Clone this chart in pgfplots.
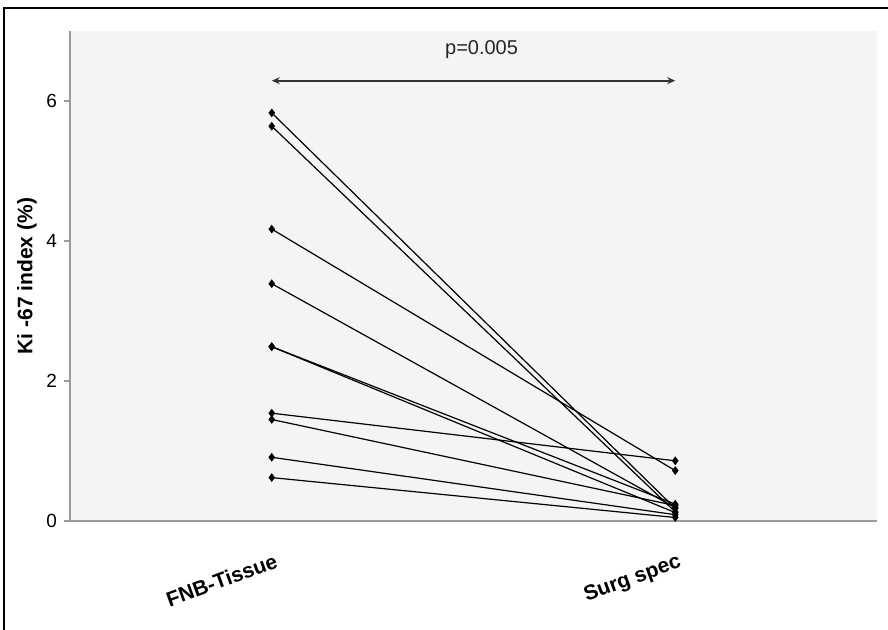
\documentclass[border=0pt]{standalone}
\usepackage{pgfplots}
\pgfplotsset{compat=1.18}
\usepackage{fontspec}
\setmainfont{Liberation Sans}
\usetikzlibrary{arrows.meta}
\definecolor{plotbg}{HTML}{F4F4F4}
\definecolor{axisgray}{HTML}{9A9A9A}
\tikzset{pair/.style={black, solid, line width=0.6pt, mark=diamond*, mark size=1.7pt, mark options={solid, fill=black}}}
\begin{document}
\begin{tikzpicture}
% canvas: 1 px of the reference = 0.5pt
\useasboundingbox (0,0) rectangle (444pt,315pt);
\draw[black, line width=1pt] (2pt,0) -- (2pt,311pt) -- (444pt,311pt);
\begin{axis}[
    at={(35pt,54.5pt)}, anchor=south west,
    scale only axis,
    width=403.5pt, height=245pt,
    xmin=0.5, xmax=2.5,
    ymin=0, ymax=7,
    xtick={1,2},
    xticklabels={FNB-Tissue,Surg spec},
    ytick={0,2,4,6},
    axis x line*=bottom,
    axis y line*=left,
    x axis line style={-, axisgray, line width=1.2pt},
    y axis line style={-, axisgray, line width=0.6pt},
    axis background/.style={fill=plotbg},
    major x tick style={draw=none},
    y tick style={axisgray, line width=0.6pt},
    tick align=outside,
    major tick length=3pt,
    /pgf/number format/assume math mode=true,
    yticklabel style={font=\fontsize{9.5}{11}\selectfont},
    xticklabel style={font=\fontsize{10.5}{12}\selectfont\bfseries, rotate=20, anchor=north east, yshift=-9pt},
    ylabel={Ki -67 index (\%)},
    ylabel style={font=\fontsize{10.5}{12}\selectfont\bfseries},
    ylabel shift=-2pt,
    clip=false,
]
\addplot[pair] coordinates {(1,5.83) (2,0.18)};
\addplot[pair] coordinates {(1,5.64) (2,0.13)};
\addplot[pair] coordinates {(1,4.17) (2,0.72)};
\addplot[pair] coordinates {(1,3.39) (2,0.19)};
\addplot[pair] coordinates {(1,2.49) (2,0.24)};
\addplot[pair] coordinates {(1,2.49) (2,0.12)};
\addplot[pair] coordinates {(1,1.54) (2,0.86)};
\addplot[pair] coordinates {(1,1.45) (2,0.22)};
\addplot[pair] coordinates {(1,0.91) (2,0.09)};
\addplot[pair] coordinates {(1,0.62) (2,0.05)};
\draw[{Stealth[length=4pt,width=3.5pt]}-{Stealth[length=4pt,width=3.5pt]}, line width=0.9pt, black!80] (axis cs:1,6.29) -- (axis cs:2,6.29);
\node[font=\fontsize{10}{12}\selectfont, text=black!85] at (axis cs:1.52,6.73) {p=0.005};
\end{axis}
\end{tikzpicture}
\end{document}
